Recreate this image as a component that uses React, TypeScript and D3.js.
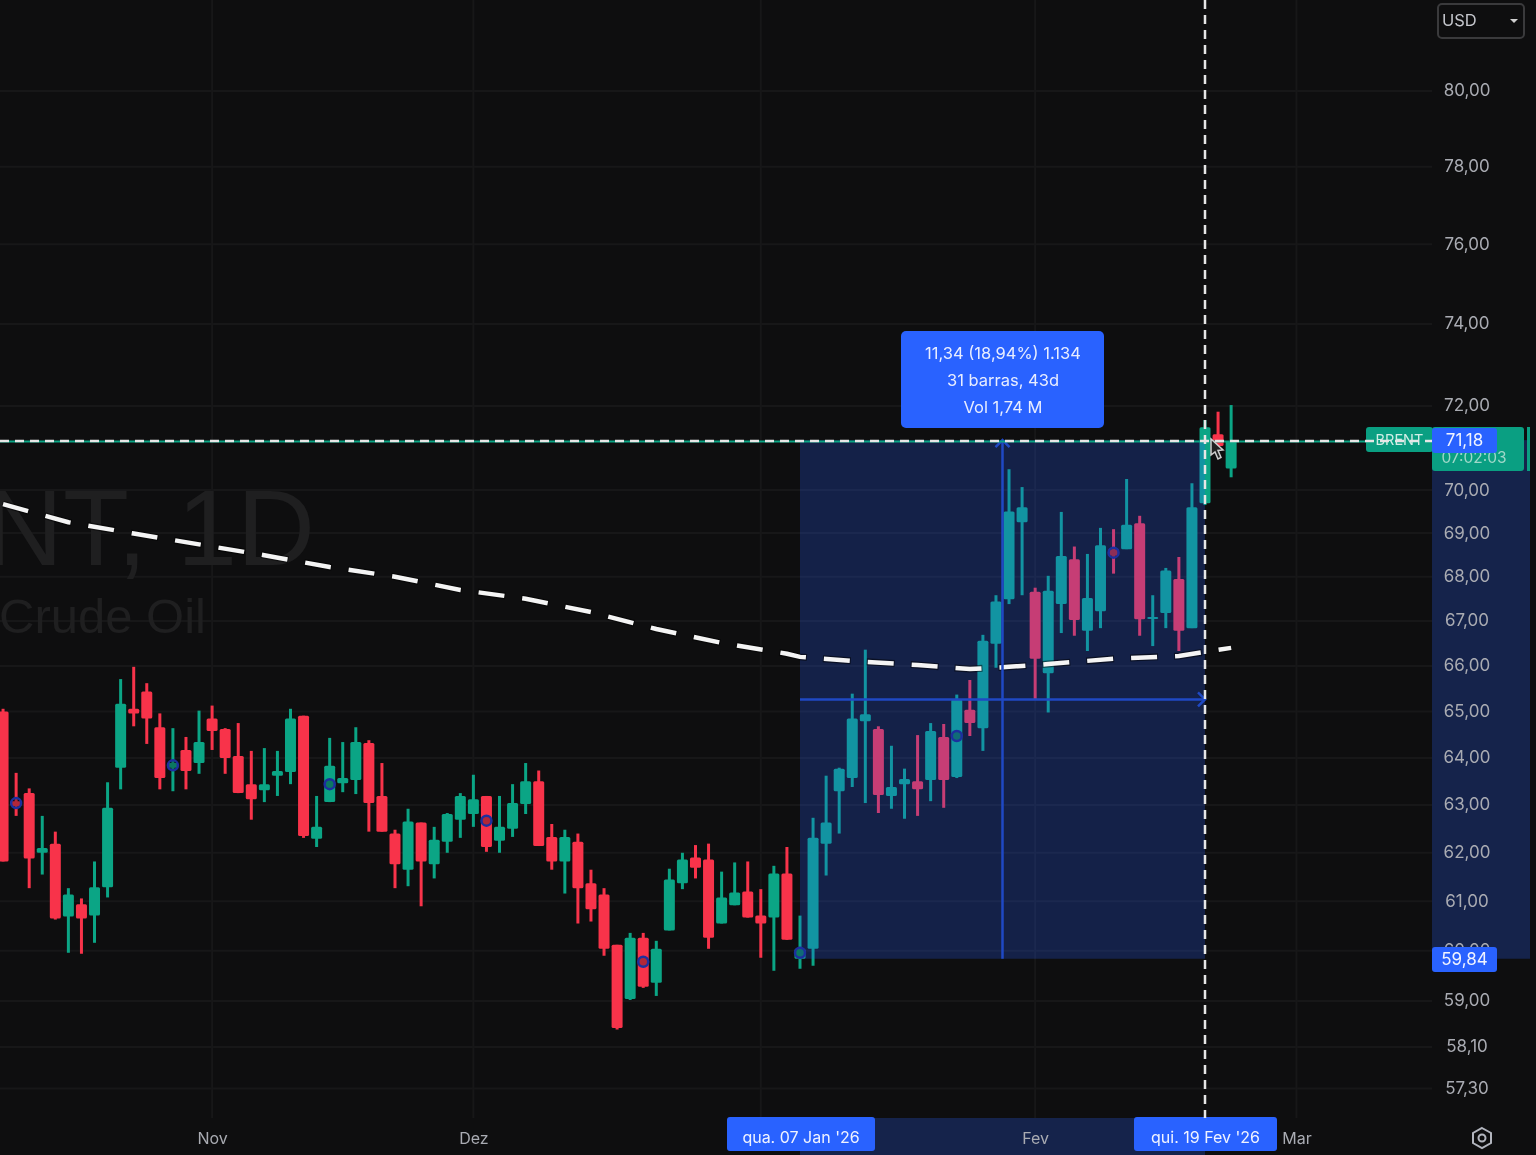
import { useRef, useEffect } from 'react';
import { scaleLinear, scaleLog, axisRight, axisBottom, select, formatLocale, line, curveLinear } from 'd3';

const WIDTH = 1536;
const HEIGHT = 1155;
const PLOT_RIGHT = 1432;
const PLOT_BOTTOM = 1118;

const BG = '#0e0e0f';
const GREEN = '#0ba585';
const RED = '#f8334a';
const BLUE = '#2962ff';
const BAND = '#15234b';
const ARROW = '#1f49c4';
const FONT = 'Inter, Roboto, sans-serif';

// daily candles, one entry per bar
const opens = [
  65.0, 63.08, 63.25, 62.0, 62.19, 60.69, 60.94, 60.71, 61.29, 63.79, 65.06, 65.44, 64.66, 63.79, 64.17, 63.89,
  64.85, 64.62, 64.04, 63.44, 63.31, 63.62, 63.7, 64.91, 62.29, 63.06, 63.46, 63.53, 64.32, 63.19, 62.4, 61.65,
  62.63, 61.76, 62.23, 62.69, 62.81, 63.19, 62.25, 62.5, 63.02, 63.5, 62.33, 61.82, 62.23, 61.37, 61.14, 60.12,
  59.04, 60.26, 59.36, 60.41, 61.37, 61.9, 61.86, 60.55, 60.92, 61.2, 60.71, 60.67, 61.57, 59.84, 60.04, 62.19,
  63.29, 63.57, 64.79, 64.62, 63.19, 63.44, 63.5, 63.53, 64.45, 63.59, 65.04, 64.64, 66.49, 67.49, 69.25, 67.66,
  65.84, 67.38, 68.4, 66.78, 67.22, 68.63, 68.63, 69.23, 67.07, 67.18, 67.95, 66.84, 69.69, 71.32, 70.51,
];
const highs = [
  65.06, 63.68, 63.35, 62.77, 62.44, 61.27, 61.06, 61.82, 63.48, 65.71, 65.98, 65.62, 64.96, 64.64, 64.45, 65.02,
  65.13, 64.64, 64.75, 64.15, 64.21, 64.15, 65.06, 64.91, 63.19, 64.43, 64.34, 64.66, 64.38, 63.89, 62.48, 62.92,
  62.63, 62.54, 62.83, 63.25, 63.64, 63.19, 63.19, 63.44, 63.89, 63.73, 62.6, 62.48, 62.4, 61.65, 61.27, 60.12,
  60.36, 60.36, 60.2, 61.67, 62.0, 62.16, 62.19, 61.61, 61.8, 61.82, 61.25, 61.73, 62.12, 60.71, 62.73, 63.62,
  63.79, 65.39, 66.36, 64.68, 64.26, 63.77, 64.49, 64.75, 64.73, 65.37, 65.69, 66.69, 67.58, 70.49, 70.07, 67.75,
  68.02, 69.49, 68.69, 68.52, 69.12, 69.09, 70.26, 69.4, 67.58, 68.2, 68.45, 70.16, 71.66, 71.86, 72.02,
];
const lows = [
  61.82, 62.77, 61.27, 61.55, 60.63, 59.96, 59.94, 60.16, 61.08, 63.33, 64.68, 64.3, 63.33, 63.29, 63.33, 63.66,
  64.17, 63.66, 63.25, 62.69, 63.06, 63.19, 63.44, 62.31, 62.12, 63.06, 63.27, 63.23, 62.44, 62.44, 61.27, 61.31,
  60.9, 61.47, 62.0, 62.31, 62.54, 62.02, 62.0, 62.33, 62.81, 62.14, 61.65, 61.16, 60.55, 60.59, 59.9, 58.44,
  59.02, 59.26, 59.1, 60.41, 61.25, 61.47, 60.04, 60.55, 60.92, 60.67, 59.86, 59.6, 60.22, 59.64, 59.7, 61.53,
  62.4, 63.38, 63.04, 62.83, 62.92, 62.71, 62.77, 63.08, 62.94, 63.57, 64.47, 64.15, 65.96, 67.38, 67.58, 65.27,
  64.98, 66.73, 66.67, 66.33, 66.84, 68.07, 68.63, 66.67, 66.44, 66.84, 66.33, 66.84, 69.65, 71.0, 70.3,
];
const closes = [
  61.82, 62.98, 61.88, 62.1, 60.65, 61.14, 60.65, 61.29, 62.94, 65.17, 64.96, 64.85, 63.57, 63.89, 63.72, 64.34,
  64.58, 64.0, 63.25, 63.12, 63.44, 63.72, 64.85, 62.35, 62.54, 63.83, 63.57, 64.34, 63.04, 62.44, 61.76, 62.65,
  61.82, 62.27, 62.81, 63.19, 63.12, 62.12, 62.54, 63.04, 63.5, 62.14, 61.82, 62.33, 61.27, 60.84, 60.04, 58.47,
  60.26, 59.28, 60.04, 61.45, 61.86, 61.69, 60.26, 61.08, 61.18, 60.67, 60.55, 61.57, 60.22, 60.04, 62.31, 62.63,
  63.77, 64.85, 64.94, 63.21, 63.38, 63.55, 63.33, 64.58, 63.53, 65.26, 64.75, 66.56, 67.44, 69.5, 69.6, 66.16,
  67.68, 68.47, 67.02, 67.52, 68.72, 68.48, 69.19, 67.04, 67.09, 68.14, 66.78, 69.6, 71.49, 71.04, 71.16,
];

// moving average, sampled bars
const maBars = [0, 5, 10, 15, 20, 25, 30, 35, 40, 45, 50, 55, 60, 61, 65, 70, 74, 77, 80, 85, 90, 94];
const maValues = [
  69.67, 69.25, 68.99, 68.74, 68.49, 68.22, 68.0, 67.7, 67.5, 67.2, 66.82, 66.51, 66.27, 66.2, 66.11, 66.02, 65.93,
  65.98, 66.04, 66.16, 66.22, 66.4,
];

// small ring markers on the candles
const markerBars = [1, 13, 25, 37, 49, 61, 73, 85];
const markerPrices = [63.04, 63.84, 63.44, 62.67, 59.78, 59.96, 64.47, 68.55];

const priceTicks = [80, 78, 76, 74, 72, 70, 69, 68, 67, 66, 65, 64, 63, 62, 61, 60, 59, 58.1, 57.3];
const timeTickBars = [16, 36, 58, 79, 99];
const timeTickLabels = ['Nov', 'Dez', '', 'Fev', 'Mar'];

const startBar = 61;
const endBar = 92;
const startPrice = 59.84;
const endPrice = 71.18;
const startLabel = "qua. 07 Jan '26";
const endLabel = "qui. 19 Fev '26";
const tooltipLines = ['11,34 (18,94%) 1.134', '31 barras, 43d', 'Vol 1,74 M'];

const ptBr = formatLocale({ decimal: ',', thousands: '.', grouping: [3], currency: ['', ''] });
const fmt = ptBr.format('.2f');

const App = () => {
  const ref = useRef(null);

  useEffect(() => {
    if (!ref.current) return;
    const svg = select(ref.current);
    svg.selectAll('*').remove();

    const x = scaleLinear().domain([startBar, endBar]).range([800, 1205]);
    const y = scaleLog().domain([80, 59]).range([91, 1001]);

    svg.append('rect').attr('width', WIDTH).attr('height', HEIGHT).attr('fill', BG);

    // grid
    svg
      .append('g')
      .selectAll('line')
      .data(priceTicks)
      .join('line')
      .attr('x1', 0)
      .attr('x2', PLOT_RIGHT)
      .attr('y1', (d) => y(d))
      .attr('y2', (d) => y(d))
      .attr('stroke', '#171718')
      .attr('stroke-width', 2);
    svg
      .append('g')
      .selectAll('line')
      .data(timeTickBars)
      .join('line')
      .attr('x1', (d) => x(d))
      .attr('x2', (d) => x(d))
      .attr('y1', 0)
      .attr('y2', PLOT_BOTTOM)
      .attr('stroke', '#171718')
      .attr('stroke-width', 2);

    // watermark
    svg
      .append('text')
      .attr('x', 315)
      .attr('y', 565)
      .attr('text-anchor', 'end')
      .attr('font-family', '"Liberation Sans", Arial, sans-serif')
      .attr('font-size', 108)
      .attr('fill', '#1f1f20')
      .text('NT, 1D');
    svg
      .append('text')
      .attr('x', 206)
      .attr('y', 633)
      .attr('text-anchor', 'end')
      .attr('font-family', '"Liberation Sans", Arial, sans-serif')
      .attr('font-size', 49)
      .attr('fill', '#1f1f20')
      .text('Crude Oil');

    // candles
    const candles = svg
      .append('g')
      .selectAll('g')
      .data(opens.map((o, i) => ({ i, o, h: highs[i], l: lows[i], c: closes[i] })))
      .join('g')
      .attr('fill', (d) => (d.c >= d.o ? GREEN : RED))
      .attr('stroke', (d) => (d.c >= d.o ? GREEN : RED));
    candles
      .append('line')
      .attr('x1', (d) => x(d.i))
      .attr('x2', (d) => x(d.i))
      .attr('y1', (d) => y(d.h))
      .attr('y2', (d) => y(d.l))
      .attr('stroke-width', 3);
    candles
      .append('rect')
      .attr('x', (d) => x(d.i) - 5.5)
      .attr('width', 11)
      .attr('y', (d) => y(Math.max(d.o, d.c)))
      .attr('height', (d) => Math.max(2, Math.abs(y(d.o) - y(d.c))))
      .attr('rx', 1.5)
      .attr('stroke', 'none');

    // measured range sits over the candles
    const rx0 = x(startBar);
    const rx1 = x(endBar);
    const ry0 = y(endPrice);
    const ry1 = y(startPrice);
    svg
      .append('rect')
      .attr('x', rx0)
      .attr('y', ry0)
      .attr('width', rx1 - rx0)
      .attr('height', ry1 - ry0)
      .attr('fill', BLUE)
      .attr('fill-opacity', 0.24);

    // moving average, faint dark halo under the dashes
    const maLine = line<number>()
      .x((d) => x(d))
      .y((_, i) => y(maValues[i]))
      .curve(curveLinear);
    svg
      .append('path')
      .attr('d', maLine(maBars))
      .attr('fill', 'none')
      .attr('stroke', '#000')
      .attr('stroke-opacity', 0.5)
      .attr('stroke-width', 7)
      .attr('stroke-dasharray', '28 16')
      .attr('stroke-dashoffset', 1);
    svg
      .append('path')
      .attr('d', maLine(maBars))
      .attr('fill', 'none')
      .attr('stroke', '#f4f4f4')
      .attr('stroke-width', 4.5)
      .attr('stroke-dasharray', '26 18');

    // ring markers
    svg
      .append('g')
      .selectAll('circle')
      .data(markerBars)
      .join('circle')
      .attr('cx', (d) => x(d))
      .attr('cy', (_, i) => y(markerPrices[i]))
      .attr('r', 5)
      .attr('fill', BG)
      .attr('fill-opacity', 0.3)
      .attr('stroke', '#1c2f9e')
      .attr('stroke-width', 2.5);

    // measure arrows
    const midX = (rx0 + rx1) / 2;
    const midY = (ry0 + ry1) / 2;
    const arrows = svg.append('g').attr('stroke', ARROW).attr('stroke-width', 2.5).attr('fill', 'none');
    arrows.append('line').attr('x1', midX).attr('x2', midX).attr('y1', ry1).attr('y2', ry0);
    arrows.append('line').attr('x1', rx0).attr('x2', rx1).attr('y1', midY).attr('y2', midY);
    arrows.append('path').attr('d', `M${midX - 7},${ry0 + 7}L${midX},${ry0}L${midX + 7},${ry0 + 7}`);
    arrows.append('path').attr('d', `M${rx1 - 7},${midY - 7}L${rx1},${midY}L${rx1 - 7},${midY + 7}`);

    // tooltip
    svg
      .append('rect')
      .attr('x', 901)
      .attr('y', 331)
      .attr('width', 203)
      .attr('height', 97)
      .attr('rx', 5)
      .attr('fill', BLUE);
    svg
      .append('g')
      .selectAll('text')
      .data(tooltipLines)
      .join('text')
      .attr('x', 1003)
      .attr('y', (_, i) => 358.5 + i * 27.3)
      .attr('text-anchor', 'middle')
      .attr('font-family', FONT)
      .attr('font-size', 16.5)
      .attr('fill', '#e8edff')
      .text((d) => d);

    // price axis
    svg.append('rect').attr('x', PLOT_RIGHT).attr('y', ry0).attr('width', 98).attr('height', ry1 - ry0).attr('fill', BAND);
    const yAxis = axisRight(y)
      .tickValues(priceTicks)
      .tickFormat((d) => fmt(d as number))
      .tickSize(0)
      .tickPadding(0);
    const yg = svg.append('g').attr('transform', 'translate(1467,-0.5)').call(yAxis);
    yg.select('.domain').remove();
    yg.selectAll('text')
      .attr('text-anchor', 'middle')
      .attr('font-family', FONT)
      .attr('font-size', 17)
      .attr('fill', '#a9abb2');

    // time axis
    svg.append('rect').attr('x', rx0).attr('y', PLOT_BOTTOM).attr('width', rx1 - rx0).attr('height', HEIGHT - PLOT_BOTTOM).attr('fill', BAND);
    const xAxis = axisBottom(x)
      .tickValues(timeTickBars)
      .tickFormat((_, i) => timeTickLabels[i])
      .tickSize(0)
      .tickPadding(0);
    const xg = svg.append('g').attr('transform', 'translate(0,1133)').call(xAxis);
    xg.select('.domain').remove();
    xg.selectAll('text').attr('font-family', FONT).attr('font-size', 16).attr('fill', '#a9abb2');

    // labels on the axes
    const tag = (tx: number, ty: number, w: number, h: number, fill: string, label: string, color = '#f0f3ff', size = 17, shift = 0) => {
      svg.append('rect').attr('x', tx).attr('y', ty).attr('width', w).attr('height', h).attr('rx', 3).attr('fill', fill);
      svg
        .append('text')
        .attr('x', tx + w / 2)
        .attr('y', ty + h / 2 + shift)
        .attr('dy', '.35em')
        .attr('text-anchor', 'middle')
        .attr('font-family', FONT)
        .attr('font-size', size)
        .attr('fill', color)
        .text(label);
    };
    tag(1432, 427, 92, 44, '#0a9f82', '');
    svg
      .append('text')
      .attr('x', 1474)
      .attr('y', 463)
      .attr('text-anchor', 'middle')
      .attr('font-family', FONT)
      .attr('font-size', 15.5)
      .attr('fill', '#9fd8c9')
      .text('07:02:03');
    svg.append('rect').attr('x', 1527).attr('y', 427).attr('width', 3).attr('height', 44).attr('fill', '#0a9f82');
    tag(1366, 427, 67, 25, '#0a9f82', 'BRENT', '#cfeee6', 14.5);
    tag(1432, 428, 65, 25, BLUE, fmt(endPrice));
    tag(1432, 947, 65, 25, BLUE, fmt(startPrice));
    tag(727, 1117, 148, 34, BLUE, startLabel, '#f0f3ff', 16, 3);
    tag(1134, 1117, 143, 34, BLUE, endLabel, '#f0f3ff', 16, 3);

    // crosshair and last price line run over the tag
    svg
      .append('line')
      .attr('x1', 0)
      .attr('x2', 1366)
      .attr('y1', ry0 + 1.5)
      .attr('y2', ry0 + 1.5)
      .attr('stroke', GREEN)
      .attr('stroke-width', 2);
    const cross = svg.append('g').attr('stroke', '#e6e6e6').attr('stroke-width', 2.5).attr('stroke-dasharray', '9 6');
    cross.append('line').attr('x1', 0).attr('x2', 1432).attr('y1', ry0 + 1).attr('y2', ry0 + 1);
    cross.append('line').attr('x1', rx1).attr('x2', rx1).attr('y1', 0).attr('y2', PLOT_BOTTOM);

    // mouse pointer
    svg
      .append('path')
      .attr('d', 'M1211,439l0,16l4,-3l3,7l3,-1.5l-3,-7l5,-0.5z')
      .attr('fill', '#222')
      .attr('stroke', '#cfcfcf')
      .attr('stroke-width', 1.5);

    // currency box
    svg
      .append('rect')
      .attr('x', 1438)
      .attr('y', 4)
      .attr('width', 86)
      .attr('height', 34)
      .attr('rx', 4)
      .attr('fill', 'none')
      .attr('stroke', '#3a3a3c')
      .attr('stroke-width', 2);
    svg
      .append('text')
      .attr('x', 1442)
      .attr('y', 26)
      .attr('font-family', FONT)
      .attr('font-size', 16.5)
      .attr('fill', '#c4c6cc')
      .text('USD');
    svg.append('path').attr('d', 'M1510,19h8l-4,4z').attr('fill', '#d0d0d0');

    // settings glyph
    svg
      .append('path')
      .attr('d', 'M1482,1128l9,5v10l-9,5l-9,-5v-10z')
      .attr('fill', 'none')
      .attr('stroke', '#b2b5be')
      .attr('stroke-width', 2);
    svg.append('circle').attr('cx', 1482).attr('cy', 1138).attr('r', 3.5).attr('fill', 'none').attr('stroke', '#b2b5be').attr('stroke-width', 2);
  }, []);

  return (
    <svg
      ref={ref}
      width={WIDTH}
      height={HEIGHT}
      style={{ position: 'absolute', left: 0, top: 0, display: 'block', filter: 'blur(0.6px)' }}
    />
  );
};

export default App;
